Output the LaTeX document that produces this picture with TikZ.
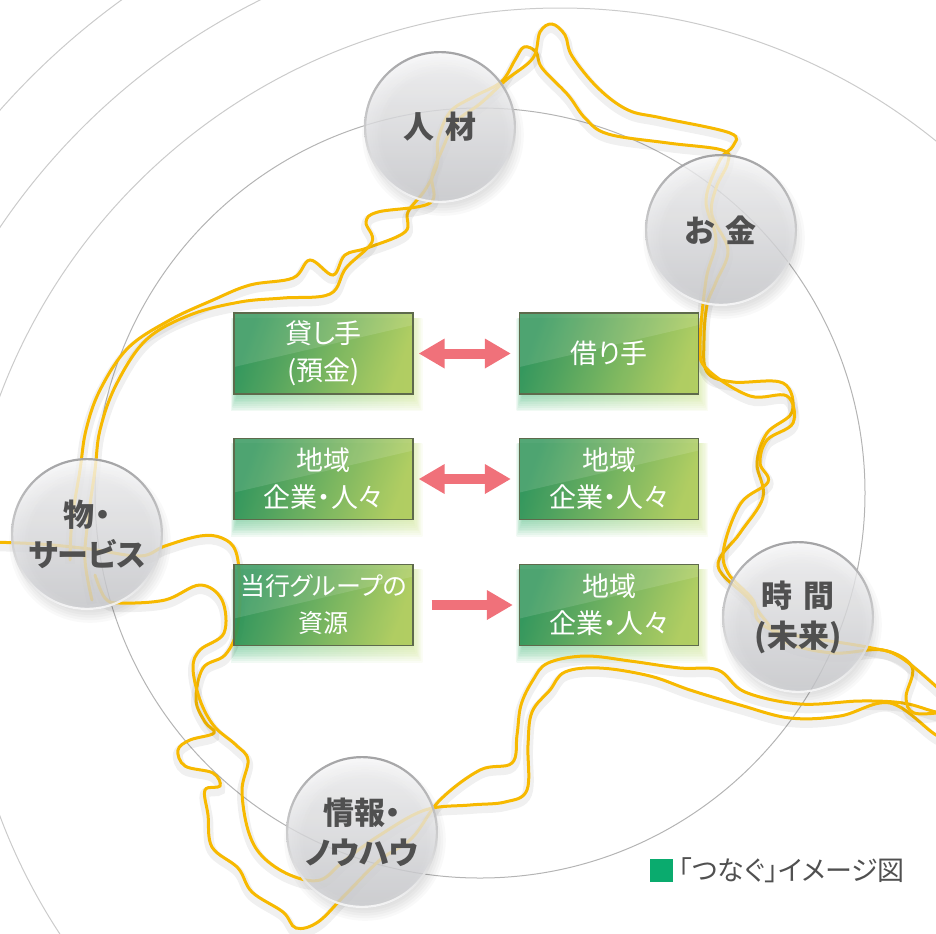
\documentclass[tikz,border=0pt]{standalone}
\usepackage{fontspec}
\setmainfont{Noto Sans CJK JP}[RawFeature=+palt]
\usetikzlibrary{positioning,arrows.meta}

\definecolor{bubtop}{HTML}{F7F7F8}
\definecolor{bubbot}{HTML}{CACBCF}
\definecolor{rimdark}{HTML}{8C8C8E}
\definecolor{bubtext}{HTML}{505050}
\definecolor{boxA}{HTML}{2C9256}
\definecolor{boxB}{HTML}{ADCB5A}
\definecolor{boxedge}{HTML}{5E6A4C}
\definecolor{glowA}{HTML}{5CC08A}
\definecolor{glowB}{HTML}{CFE48C}
\definecolor{arrowc}{HTML}{F0717A}
\definecolor{threadc}{HTML}{F7B900}
\definecolor{ringin}{HTML}{B4B4B4}
\definecolor{ringout}{HTML}{CBCBCB}
\definecolor{legendsq}{HTML}{0AAB6E}

\pgfdeclarelayer{bg}
\pgfdeclarelayer{mid}
\pgfsetlayers{bg,mid,main}

\tikzset{
  ring/.style={draw=ringout, line width=0.5pt},
  thread/.style={draw=threadc, line width=1.5pt, line cap=round,
    preaction={draw=black, opacity=0.06, line width=5pt, transform canvas={yshift=-2pt}}},
  bubble/.style={circle, minimum size=76pt, inner sep=0pt, align=center,
    top color=bubtop, bottom color=bubbot, fill opacity=0.78, text opacity=1,
    text=bubtext, font=\bfseries\fontsize{15.5}{20}\selectfont,
    path picture={\shade[top color=rimdark, bottom color=white, even odd rule]
      (path picture bounding box.center) circle[radius=38pt] circle[radius=36.9pt];}},
  gbox/.style={rectangle, minimum width=89.5pt, minimum height=40.5pt, inner sep=0pt,
    align=center, draw=boxedge, line width=0.6pt,
    left color=boxA, right color=boxB, shading angle=70,
    fill opacity=0.92, text opacity=1, text=white,
    font=\fontsize{13.5}{18.5}\selectfont,
    path picture={\fill[white, opacity=0.12] (path picture bounding box.north west)
      -- (path picture bounding box.north east)
      -- ([yshift=-6pt]path picture bounding box.north east)
      -- ([yshift=-27pt]path picture bounding box.north west) -- cycle;}},
  duoarrow/.style={{Triangle[length=13pt,width=14pt]}-{Triangle[length=13pt,width=14pt]},
    draw=arrowc, line width=5pt},
  onearrow/.style={-{Triangle[length=13pt,width=14pt]}, draw=arrowc, line width=5pt},
}

\begin{document}
\begin{tikzpicture}[x=0.5pt,y=-0.5pt]
\useasboundingbox (0,0) rectangle (936,933);

% rings
\begin{pgfonlayer}{bg}
 \clip (0,0) rectangle (936,933);
 \draw[ring, draw=ringin] (480,493) circle[radius=192.5pt];
 \draw[ring] (560,606) circle[radius=299pt];
 \begin{scope}
  \clip (0,0) rectangle (600,420);
  \draw[ring] (560,606) circle[radius=338pt];
  \draw[ring] (560,606) circle[radius=374pt];
 \end{scope}
\end{pgfonlayer}

% threads
\begin{pgfonlayer}{mid}
 \clip (0,0) rectangle (936,933);
 \draw[thread] plot[smooth, tension=0.6] coordinates {(-10,542) (40,544) (90,549) (140,556)
  (165,546) (200,536) (222,538) (236,552) (240,590) (237,630) (225,655) (203,668) (196,700)
  (205,722) (214,733) (190,740) (178,750) (185,766) (213,773) (220,786) (205,790) (208,815)
  (212,847) (238,868) (252,892) (283,912) (296,928) (318,922) (345,895) (380,860) (412,838)
  (440,800) (480,770) (512,763) (517,735) (521,705) (533,680) (548,663) (585,656) (630,661)
  (680,668) (718,670) (745,692) (800,704) (860,701) (903,703) (936,712) (960,716)};
 \draw[thread] plot[smooth, tension=0.6] coordinates {(95,575) (105,598) (120,603) (165,600)
  (200,585) (222,600) (224,633) (200,650) (193,668) (200,700) (214,726) (236,745) (248,760)
  (242,790) (248,830) (262,856) (290,875) (320,880) (345,860) (380,835) (425,810) (470,805)
  (505,802) (527,790) (528,745) (532,712) (550,690) (565,672) (600,668) (650,676) (690,690)
  (740,705) (790,718) (840,716) (890,703) (936,735) (960,745)};
 \draw[thread] plot[smooth, tension=0.6] coordinates {(70,560) (72,520) (80,470) (86,430)
  (100,390) (128,348) (170,320) (213,300) (250,285) (293,278) (310,260) (333,275) (345,255)
  (367,248) (405,232) (408,212) (425,190) (437,165) (438,140) (450,112) (473,97) (501,82)
  (515,60) (524,47) (536,52) (542,68) (568,95) (585,118) (608,134) (668,143) (722,150)
  (728,162) (716,188) (712,215) (728,250) (716,282) (707,305) (704,340) (707,372) (733,382)
  (783,383) (792,412) (767,433) (757,463) (763,497) (740,533) (718,566) (748,598) (765,620)
  (785,642) (833,653) (883,650) (912,667) (906,697) (914,713) (945,712)};
 \draw[thread] plot[smooth, tension=0.6] coordinates {(92,600) (85,560) (88,520) (95,470)
  (100,430) (116,385) (146,340) (190,315) (240,302) (283,298) (330,294) (346,268) (372,242)
  (366,222) (378,212) (430,203) (432,176) (442,150) (456,122) (481,103) (506,80) (533,58)
  (540,32) (552,24) (565,35) (572,56) (598,88) (628,110) (662,118) (730,133) (733,146)
  (720,160) (706,200) (716,240) (706,280) (700,347) (708,370) (750,396) (787,396) (793,423)
  (767,440) (760,463) (768,482) (741,503) (724,547) (728,573) (753,600) (758,620) (783,633)
  (867,647) (900,657) (940,690)};
\end{pgfonlayer}

% boxes
\node[gbox] (lend) at (323.5,353.5) {貸し手\\(預金)};
\node[gbox] (borrow) at (609,353.5) {借り手};
\node[gbox] (areaA) at (323.5,479) {地域\\企業・人々};
\node[gbox] (areaB) at (609,479) {地域\\企業・人々};
\node[gbox, font=\fontsize{12.5}{18.5}\selectfont] (group) at (323.5,605) {当行グループの\\資源};
\node[gbox] (areaC) at (609,605) {地域\\企業・人々};

% arrows
\draw[duoarrow, shorten <=2.5pt, shorten >=4pt] (lend) -- (borrow);
\draw[duoarrow, shorten <=2.5pt, shorten >=4pt] (areaA) -- (areaB);
\draw[onearrow, shorten <=9pt, shorten >=3pt] (group) -- (areaC);

% bubbles
\node[bubble] (jinzai) at (440,127) {人\hspace{0.35em}材};
\node[bubble] (okane) at (721,230) {お\hspace{0.35em}金};
\node[bubble] (mono) at (87,534) {物・\\サービス};
\node[bubble] (jikan) at (798,617) {時\hspace{0.35em}間\\(未来)};
\node[bubble] (joho) at (362,832) {情報・\\ノウハウ};

% glow and shadows
\begin{pgfonlayer}{bg}
 \clip (0,0) rectangle (936,933);
 \foreach \b in {lend,borrow,areaA,areaB,group,areaC}{
  \foreach \i in {1,...,9}{
   \shade[left color=glowA, right color=glowB, opacity=0.09]
    ([shift={(2pt-0.35pt*\i,-3pt)}]\b.north west) rectangle ([shift={(0.6pt*\i-1pt,-0.9pt*\i)}]\b.south east);
  }}
 \foreach \b in {jinzai,okane,mono,jikan,joho}{
  \foreach \i in {1,...,8}{
   \fill[black, opacity=0.022] ([shift={(1.5pt,-4pt)}]\b.center) circle[radius={30pt+1.3pt*\i}];
  }}
\end{pgfonlayer}

% legend
\node[fill=legendsq, minimum size=11.5pt, inner sep=0pt] (sq) at (661.5,870) {};
\node[right=2.5pt of sq, inner sep=0pt, text=bubtext, font=\fontsize{13.5}{15}\selectfont] (legend) {「つなぐ」イメージ図};
\end{tikzpicture}
\end{document}
